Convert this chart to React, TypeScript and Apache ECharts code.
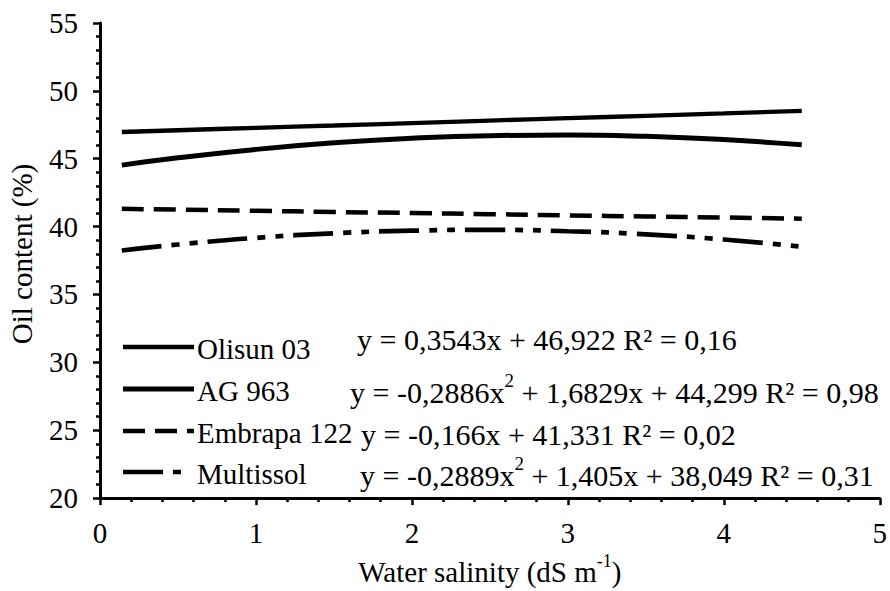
import React, { useEffect, useRef } from "react";
import * as echarts from "echarts";

const FONT = "'Times New Roman', 'Liberation Serif', Tinos, 'DejaVu Serif', serif";

const xValues = [0.14, 0.5, 1, 1.5, 2, 2.5, 3, 3.5, 4, 4.5];
const seriesNames = ["Olisun 03", "AG 963", "Embrapa 122", "Multissol"];
const olisun = [46.97, 47.1, 47.28, 47.45, 47.63, 47.81, 47.99, 48.16, 48.34, 48.52];
const ag963 = [44.53, 45.07, 45.69, 46.17, 46.51, 46.7, 46.75, 46.65, 46.41, 46.03];
const embrapa = [41.31, 41.25, 41.17, 41.08, 41.0, 40.92, 40.83, 40.75, 40.67, 40.58];
const multissol = [38.24, 38.68, 39.17, 39.51, 39.7, 39.76, 39.66, 39.43, 39.05, 38.52];
const equations = [
  "{n|y = 0,3543x + 46,922 R² = 0,16}",
  "{n|y = -0,2886x}{sup|2}{n| + 1,6829x + 44,299 R² = 0,98}",
  "{n|y = -0,166x + 41,331 R² = 0,02}",
  "{n|y = -0,2889x}{sup|2}{n| + 1,405x + 38,049 R² = 0,31}",
];

const pairs = (ys: number[]) => xValues.map((x, i) => [x, ys[i]]);

export default function App() {
  const ref = useRef<HTMLDivElement>(null);
  useEffect(() => {
    if (!ref.current) return;
    const chart = echarts.init(ref.current, undefined, { renderer: "svg" });
    const lineDefs = [
      { data: olisun, width: 4.3, type: "solid" as any, legendLen: 71 },
      { data: ag963, width: 5, type: "solid" as any, legendLen: 71 },
      { data: embrapa, width: 4.5, type: [22, 10] as any, legendLen: 71 },
      { data: multissol, width: 4.7, type: [40, 10, 8, 10, 8, 10] as any, legendLen: 60 },
    ];
    const legendY = [347, 389, 431, 472];
    const eqPos = [
      { x: 357, y: 336 },
      { x: 350, y: 389 },
      { x: 361, y: 431 },
      { x: 360, y: 472 },
    ];
    const rich = {
      n: { fontSize: 30, fontFamily: FONT, color: "#000", lineHeight: 36, verticalAlign: "bottom" },
      sup: { fontSize: 19, fontFamily: FONT, color: "#000", lineHeight: 19, verticalAlign: "top" },
    };
    const legendGraphics: any[] = [];
    seriesNames.forEach((name, i) => {
      legendGraphics.push({
        type: "line",
        shape: { x1: 123, y1: legendY[i], x2: 123 + lineDefs[i].legendLen, y2: legendY[i] },
        style: {
          stroke: "#000",
          lineWidth: lineDefs[i].width,
          lineDash: Array.isArray(lineDefs[i].type) ? lineDefs[i].type : null,
          lineCap: "butt",
        },
      });
      legendGraphics.push({
        type: "text",
        x: 197,
        y: legendY[i] + 2,
        style: {
          text: name,
          fontSize: 29,
          fontFamily: FONT,
          fill: "#000",
          align: "left",
          verticalAlign: "middle",
        },
      });
    });
    chart.setOption({
      animation: false,
      backgroundColor: "#fff",
      textStyle: { fontFamily: FONT },
      grid: { left: 100, right: 9, top: 23, bottom: 68, containLabel: false },
      xAxis: {
        type: "value",
        min: 0,
        max: 5,
        interval: 1,
        axisLine: { show: true, lineStyle: { color: "#000", width: 3 } },
        axisTick: { show: true, length: 7, lineStyle: { color: "#000", width: 2.5 } },
        minorTick: { show: true, splitNumber: 5, length: 4, lineStyle: { color: "#000", width: 2.5 } },
        splitLine: { show: false },
        axisLabel: { color: "#000", fontSize: 29, fontFamily: FONT, margin: 20 },
        name: "{n|Water salinity (dS m}{sup|-1}{n|)}",
        nameLocation: "middle",
        nameGap: 34,
        nameTextStyle: {
          rich: {
            n: { fontSize: 29, fontFamily: FONT, color: "#000", lineHeight: 34, verticalAlign: "bottom" },
            sup: { fontSize: 18, fontFamily: FONT, color: "#000", lineHeight: 18, verticalAlign: "top" },
          },
        },
      },
      yAxis: {
        type: "value",
        min: 20,
        max: 55,
        interval: 5,
        axisLine: { show: true, lineStyle: { color: "#000", width: 3 } },
        axisTick: { show: true, length: 7, lineStyle: { color: "#000", width: 2.5 } },
        minorTick: { show: true, splitNumber: 5, length: 4, lineStyle: { color: "#000", width: 2.5 } },
        splitLine: { show: false },
        axisLabel: { color: "#000", fontSize: 29, fontFamily: FONT, margin: 22 },
      },
      legend: { show: false, data: seriesNames },
      graphic: [
        {
          type: "text",
          x: 22,
          y: 254,
          rotation: Math.PI / 2,
          style: {
            text: "Oil content (%)",
            fontSize: 29,
            fontFamily: FONT,
            fill: "#000",
            align: "center",
            verticalAlign: "middle",
          },
        },
        ...legendGraphics,
        ...equations.map((eq, i) => ({
          type: "text",
          x: eqPos[i].x,
          y: eqPos[i].y,
          style: {
            text: eq,
            rich,
            fill: "#000",
            align: "left",
            verticalAlign: "middle",
          },
        })),
      ],
      series: seriesNames.map((name, i) => ({
        name,
        type: "line",
        data: pairs(lineDefs[i].data),
        smooth: true,
        symbol: "none",
        lineStyle: { color: "#000", width: lineDefs[i].width, type: lineDefs[i].type, cap: "butt" },
        itemStyle: { color: "#000" },
      })),
    });
    return () => chart.dispose();
  }, []);
  return (
    <div
      ref={ref}
      style={{ position: "fixed", left: 0, top: 0, width: 890, height: 591, background: "#fff" }}
    />
  );
}
